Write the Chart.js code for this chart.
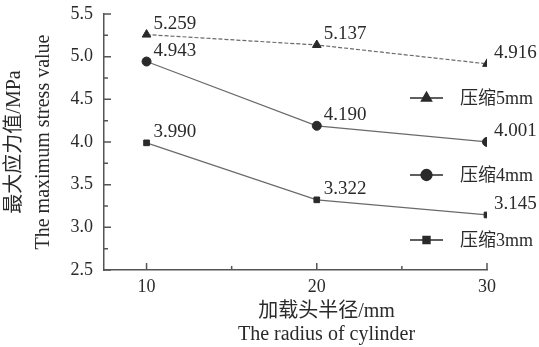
<!DOCTYPE html>
<html>
<head>
<meta charset="utf-8">
<script src="https://cdn.jsdelivr.net/npm/chart.js@4/dist/chart.umd.min.js"></script>
<style>
  body { margin: 0; background: #fff; }
  #wrap { width: 539px; height: 347px; }
</style>
</head>
<body>
<div id="wrap"><canvas id="stressChart" width="539" height="347"></canvas></div>
<script>
// chart values
var radius = [10, 20, 30];
var xTickLabels = ["10", "20", "30"];
var yTicks = [2.5, 3.0, 3.5, 4.0, 4.5, 5.0, 5.5];
var press5 = [5.259, 5.137, 4.916];
var press4 = [4.943, 4.190, 4.001];
var press3 = [3.990, 3.322, 3.145];
var seriesNames = ["压缩5mm", "压缩4mm", "压缩3mm"];
var xTitle = ["加载头半径/mm", "The radius of cylinder"];
var yTitle = ["最大应力值/MPa", "The maximum stress value"];

var FONT = '"Liberation Serif", "Noto Sans CJK SC", serif';
var INK = "#2a2a2a";
var LINE = "#6a6a6a";

function toPoints(vals) {
    return vals.map(function (v, i) { return {x: radius[i], y: v}; });
}

// inward tick marks, long on labelled values and short half way between
var tickMarks = {
    id: "tickMarks",
    afterDraw: function (chart) {
        var ctx = chart.ctx;
        var xs = chart.scales.x, ys = chart.scales.y;
        var area = chart.chartArea;
        ctx.save();
        ctx.strokeStyle = "#555";
        ctx.lineWidth = 1.5;
        ctx.beginPath();
        yTicks.forEach(function (v, i) {
            var py = ys.getPixelForValue(v);
            ctx.moveTo(area.left, py);
            ctx.lineTo(area.left + 7, py);
            if (i < yTicks.length - 1) {
                var my = ys.getPixelForValue((v + yTicks[i + 1]) / 2);
                ctx.moveTo(area.left, my);
                ctx.lineTo(area.left + 4, my);
            }
        });
        radius.forEach(function (v, i) {
            var px = xs.getPixelForValue(v);
            ctx.moveTo(px, area.bottom);
            ctx.lineTo(px, area.bottom - 7);
            if (i < radius.length - 1) {
                var mx = xs.getPixelForValue((v + radius[i + 1]) / 2);
                ctx.moveTo(mx, area.bottom);
                ctx.lineTo(mx, area.bottom - 4);
            }
        });
        ctx.stroke();
        ctx.restore();
    }
};

// x title sits a little right of the plot centre in the original
var bottomTitle = {
    id: "bottomTitle",
    afterDraw: function (chart, args, opts) {
        var ctx = chart.ctx;
        var area = chart.chartArea;
        var cx = (area.left + area.right) / 2 + opts.shift;
        ctx.save();
        ctx.font = "20px " + FONT;
        ctx.fillStyle = INK;
        ctx.textAlign = "center";
        ctx.textBaseline = "middle";
        xTitle.forEach(function (t, i) {
            ctx.fillText(t, cx, opts.rows[i]);
        });
        ctx.restore();
    }
};

// value written up and right of every point
var valueLabels = {
    id: "valueLabels",
    afterDatasetsDraw: function (chart) {
        var ctx = chart.ctx;
        ctx.save();
        ctx.font = "19px " + FONT;
        ctx.fillStyle = INK;
        ctx.textAlign = "left";
        ctx.textBaseline = "middle";
        chart.data.datasets.forEach(function (ds, di) {
            chart.getDatasetMeta(di).data.forEach(function (pt, i) {
                ctx.fillText(ds.data[i].y.toFixed(3), pt.x + 7, pt.y - 11);
            });
        });
        ctx.restore();
    }
};

// legend entries sit inside the plot, on the right
var sideLegend = {
    id: "sideLegend",
    afterDraw: function (chart, args, opts) {
        var ctx = chart.ctx;
        ctx.save();
        chart.data.datasets.forEach(function (ds, i) {
            var y = opts.rows[i];
            var x0 = opts.left;
            ctx.strokeStyle = INK;
            ctx.lineWidth = 1.3;
            ctx.beginPath();
            ctx.moveTo(x0, y);
            ctx.lineTo(x0 + 33, y);
            ctx.stroke();
            ctx.fillStyle = INK;
            Chart.helpers.drawPoint(ctx, {
                pointStyle: ds.pointStyle,
                radius: ds.pointRadius + 1,
                borderWidth: 1
            }, x0 + 16.5, y);
            ctx.font = "18px " + FONT;
            ctx.textAlign = "left";
            ctx.textBaseline = "middle";
            ctx.fillText(ds.label, x0 + 50, y + 1);
        });
        ctx.restore();
    }
};

function series(i, vals, style, r, dash) {
    return {
        label: seriesNames[i],
        data: toPoints(vals),
        borderColor: LINE,
        borderWidth: 1.2,
        borderDash: dash,
        pointStyle: style,
        pointRadius: r,
        pointBackgroundColor: INK,
        pointBorderColor: INK,
        pointBorderWidth: 1,
        tension: 0
    };
}

var ctx = document.getElementById("stressChart").getContext("2d");
new Chart(ctx, {
    type: "line",
    data: {
        datasets: [
            series(0, press5, "triangle", 5, [4, 2]),
            series(1, press4, "circle", 4.5, []),
            series(2, press3, "rect", 4, [])
        ]
    },
    options: {
        responsive: false,
        animation: false,
        layout: {padding: {top: 14, right: 52, left: 0, bottom: 0}},
        plugins: {
            legend: {display: false},
            tooltip: {enabled: false},
            sideLegend: {left: 410, rows: [98, 175, 240]},
            bottomTitle: {shift: 31, rows: [312, 335]}
        },
        scales: {
            x: {
                type: "linear",
                min: 7.5,
                max: 30,
                afterBuildTicks: function (scale) {
                    scale.ticks = radius.map(function (v) { return {value: v}; });
                },
                afterFit: function (scale) {
                    scale.height = 77;
                    scale.paddingLeft = 0;
                    scale.paddingRight = 0;
                },
                ticks: {
                    color: INK,
                    padding: 6,
                    maxRotation: 0,
                    font: {family: FONT, size: 18},
                    callback: function (v) { return xTickLabels[radius.indexOf(v)]; }
                },
                grid: {display: false, drawTicks: false},
                border: {display: true, color: "#555", width: 1.5}
            },
            y: {
                min: 2.5,
                max: 5.5,
                afterBuildTicks: function (scale) {
                    scale.ticks = yTicks.map(function (v) { return {value: v}; });
                },
                afterFit: function (scale) {
                    scale.width = 104;
                    scale.paddingTop = 0;
                    scale.paddingBottom = 0;
                },
                ticks: {
                    color: INK,
                    padding: 11,
                    font: {family: FONT, size: 18},
                    callback: function (v) { return v.toFixed(1); }
                },
                grid: {display: false, drawTicks: false},
                border: {display: true, color: "#555", width: 1.5},
                title: {
                    display: true,
                    text: yTitle,
                    color: INK,
                    font: {family: FONT, size: 20, lineHeight: 1.45},
                    padding: {top: 0, bottom: 0}
                }
            }
        }
    },
    plugins: [tickMarks, valueLabels, sideLegend, bottomTitle]
});
</script>
</body>
</html>
